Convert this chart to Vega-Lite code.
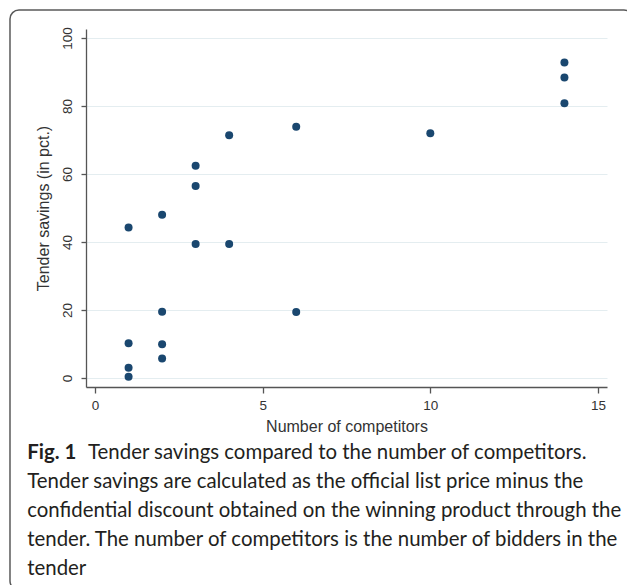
{
  "$schema": "https://vega.github.io/schema/vega-lite/v6.json",
  "usermeta": {"embedOptions": {"actions": false}},
  "width": 521,
  "height": 358,
  "autosize": {"type": "none"},
  "padding": {"left": 86, "top": 29, "right": 20, "bottom": 198},
  "background": "white",
  "config": {"view": {"stroke": null}},
  "title": {
    "text": "Fig. 1",
    "subtitle": [
      "Tender savings are calculated as the official list price minus the",
      "confidential discount obtained on the winning product through the",
      "tender. The number of competitors is the number of bidders in the",
      "tender"
    ],
    "orient": "bottom",
    "anchor": "start",
    "frame": "bounds",
    "offset": -148,
    "dx": 18,
    "font": "Lato",
    "fontSize": 20.4,
    "fontWeight": "bold",
    "color": "#231f20",
    "subtitleFont": "Lato",
    "subtitleFontSize": 20.4,
    "subtitleFontWeight": "normal",
    "subtitleColor": "#231f20",
    "subtitleLineHeight": 29,
    "subtitlePadding": 8.6
  },
  "layer": [
    {
      "data": {
        "values": [
          {"competitors": 1, "savings": 44.3},
          {"competitors": 1, "savings": 10.2},
          {"competitors": 1, "savings": 3.0},
          {"competitors": 1, "savings": 0.4},
          {"competitors": 2, "savings": 48.0},
          {"competitors": 2, "savings": 19.5},
          {"competitors": 2, "savings": 9.9},
          {"competitors": 2, "savings": 5.7},
          {"competitors": 3, "savings": 62.4},
          {"competitors": 3, "savings": 56.5},
          {"competitors": 3, "savings": 39.4},
          {"competitors": 4, "savings": 71.4},
          {"competitors": 4, "savings": 39.4},
          {"competitors": 6, "savings": 73.9},
          {"competitors": 6, "savings": 19.4},
          {"competitors": 10, "savings": 72.0},
          {"competitors": 14, "savings": 92.8},
          {"competitors": 14, "savings": 88.4},
          {"competitors": 14, "savings": 80.8}
        ]
      },
      "mark": {"type": "circle", "size": 64, "color": "#1a476f", "opacity": 1},
      "encoding": {
        "x": {
          "field": "competitors",
          "type": "quantitative",
          "title": "Number of competitors",
          "scale": {"domain": [-0.27, 15.27], "nice": false, "zero": false},
          "axis": {
            "values": [0, 5, 10, 15],
            "grid": false,
            "domainColor": "#555555",
            "domainWidth": 1.3,
            "tickColor": "#555555",
            "tickWidth": 1.3,
            "tickSize": 6,
            "labelFont": "Liberation Sans",
            "labelFontSize": 13.5,
            "labelColor": "#333333",
            "labelPadding": 5,
            "labelFlush": false,
            "titleFont": "Liberation Sans",
            "titleFontSize": 16,
            "titleFontWeight": "normal",
            "titleColor": "#333333",
            "titlePadding": 7
          }
        },
        "y": {
          "field": "savings",
          "type": "quantitative",
          "title": "Tender savings (in pct.)",
          "scale": {"domain": [-2.65, 102.65], "nice": false, "zero": false},
          "axis": {
            "values": [0, 20, 40, 60, 80, 100],
            "grid": true,
            "gridColor": "#e4edf0",
            "gridWidth": 1,
            "domainColor": "#555555",
            "domainWidth": 1.3,
            "tickColor": "#555555",
            "tickWidth": 1.3,
            "tickSize": 5,
            "labelAngle": -90,
            "labelAlign": "center",
            "labelBaseline": "bottom",
            "labelFont": "Liberation Sans",
            "labelFontSize": 13.5,
            "labelColor": "#333333",
            "labelPadding": 7,
            "labelFlush": false,
            "titleFont": "Liberation Sans",
            "titleFontSize": 16,
            "titleFontWeight": "normal",
            "titleColor": "#333333",
            "titlePadding": 9
          }
        }
      }
    },
    {
      "data": {"values": [{"frame": "border"}]},
      "mark": {"type": "rect", "fill": null, "stroke": "#5a5a5a", "strokeWidth": 1.5, "cornerRadius": 9, "clip": false},
      "encoding": {
        "x": {"datum": -2.537, "type": "quantitative", "title": "Number of competitors"},
        "x2": {"datum": 16.044},
        "y": {"datum": 108.24, "type": "quantitative", "title": "Tender savings (in pct.)"},
        "y2": {"datum": -62.36}
      }
    },
    {
      "data": {"values": [{"caption": "Tender savings compared to the number of competitors."}]},
      "mark": {"type": "text", "align": "left", "baseline": "alphabetic", "font": "Lato", "fontSize": 20.4, "color": "#231f20", "clip": false},
      "encoding": {
        "text": {"field": "caption", "type": "nominal"},
        "x": {"datum": -0.21, "type": "quantitative", "title": "Number of competitors"},
        "y": {"datum": -23.83, "type": "quantitative", "title": "Tender savings (in pct.)"}
      }
    }
  ]
}
